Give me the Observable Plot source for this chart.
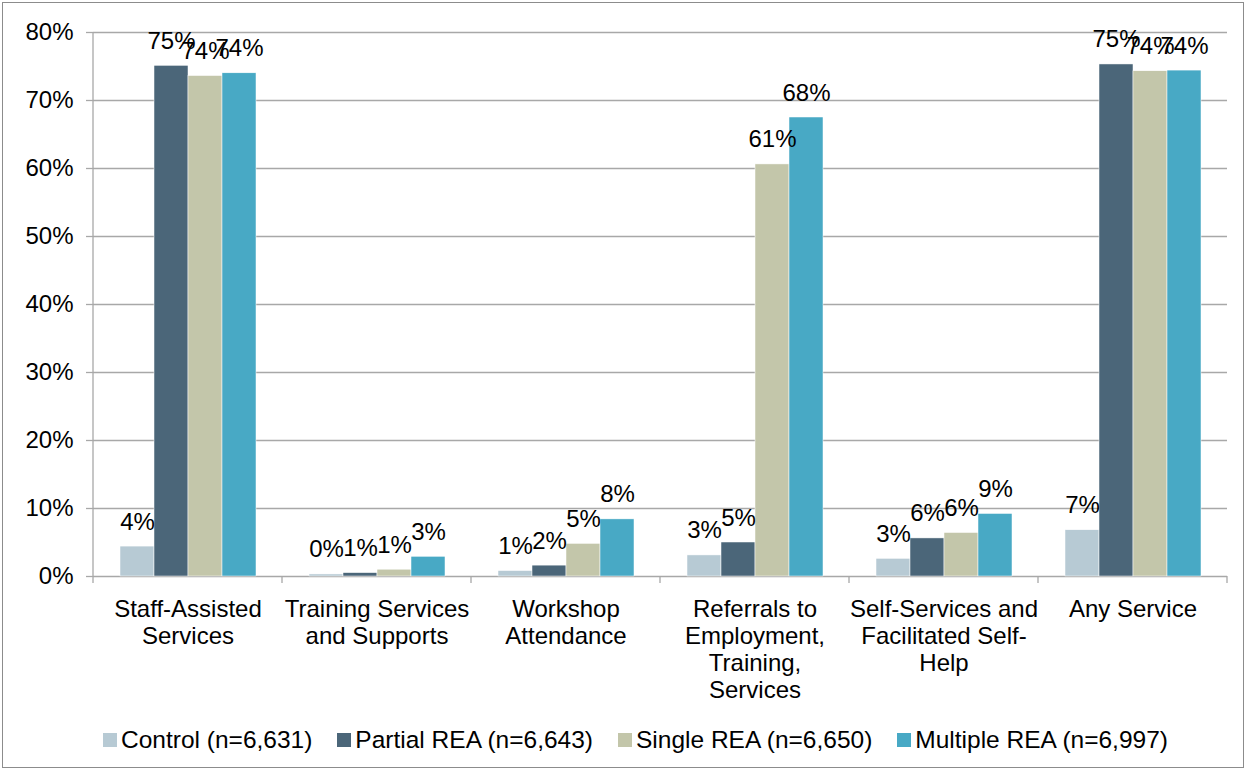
<!DOCTYPE html>
<html>
<head>
<meta charset="utf-8">
<script src="https://cdn.jsdelivr.net/npm/d3@7"></script>
<script src="https://cdn.jsdelivr.net/npm/@observablehq/plot@0.6"></script>
<style>
  html, body { margin: 0; padding: 0; background: #fff; }
  body { width: 1253px; height: 774px; position: relative; overflow: hidden; font-family: "Liberation Sans", Arial, sans-serif; }
  #frame { position: absolute; left: 2px; top: 2px; width: 1242px; height: 766px; border: 1px solid #8c8c8c; box-sizing: border-box; }
  #chart { position: absolute; left: 0; top: 0; }
  #legend { position: absolute; left: 103px; top: 726px; display: flex; align-items: center; font-size: 24.5px; color: #000; white-space: nowrap; }
  #legend .item { display: flex; align-items: center; margin-right: 25px; }
  #legend .sw { width: 14px; height: 14px; margin-right: 4px; }
</style>
</head>
<body>
<div id="frame"></div>
<div id="chart"></div>
<div id="legend"></div>
<script>
const categories = ["Staff-Assisted Services", "Training Services and Supports", "Workshop Attendance", "Referrals to Employment, Training, Services", "Self-Services and Facilitated Self-Help", "Any Service"];
const categoryLabels = ["Staff-Assisted\nServices", "Training Services\nand Supports", "Workshop\nAttendance", "Referrals to\nEmployment,\nTraining,\nServices", "Self-Services and\nFacilitated Self-\nHelp", "Any Service"];
const series = ["Control (n=6,631)", "Partial REA (n=6,643)", "Single REA (n=6,650)", "Multiple REA (n=6,997)"];
const seriesColors = ["#b7cad4", "#4b6679", "#c3c6aa", "#48a9c5"];
const control = [4.4, 0.3, 0.8, 3.1, 2.6, 6.8];
const partial = [75.1, 0.5, 1.6, 5.0, 5.6, 75.3];
const single = [73.6, 1.0, 4.8, 60.6, 6.4, 74.3];
const multiple = [74.0, 2.9, 8.4, 67.5, 9.2, 74.4];
const yTicks = [0, 10, 20, 30, 40, 50, 60, 70, 80];

const seriesValues = [control, partial, single, multiple];
const data = [];
categories.forEach((c, i) => {
  series.forEach((s, j) => data.push({cat: c, series: s, value: seriesValues[j][i]}));
});
const labelMap = new Map(categories.map((c, i) => [c, categoryLabels[i]]));

const W = 1253, H = 710;
const font = "'Liberation Sans', Arial, sans-serif";
const gridColor = "#a8a8a8";

const chart = Plot.plot({
  width: W,
  height: H,
  marginLeft: 93,
  marginRight: 26,
  marginTop: 32,
  marginBottom: 134,
  style: {fontFamily: font, fontSize: "24px", color: "#000", background: "transparent", overflow: "visible"},
  fx: {domain: categories, padding: 0, label: null},
  x: {domain: series, paddingInner: 0, paddingOuter: 0.74, axis: null},
  y: {domain: [0, 80], label: null},
  color: {domain: series, range: seriesColors},
  marks: [
    Plot.gridY(yTicks, {stroke: gridColor, strokeOpacity: 1, strokeWidth: 1.3}),
    Plot.axisY(yTicks, {tickFormat: d => d + "%", tickSize: 7, tickPadding: 13, fontSize: 24, stroke: gridColor, strokeWidth: 1.3, label: null}),
    Plot.barY(data, {fx: "cat", x: "series", y: "value", fill: "series", stroke: "#fff", strokeWidth: 0.5}),
    Plot.text(data, {fx: "cat", x: "series", y: "value", text: d => Math.round(d.value) + "%", dy: -17, lineAnchor: "bottom", fontSize: 24, fill: "#000"}),
    Plot.axisFx({anchor: "bottom", tickSize: 0, tickPadding: 21, lineHeight: 1.125, fontSize: 24, tickFormat: d => labelMap.get(d), label: null})
  ]
});
document.getElementById("chart").appendChild(chart);

// axis line and category boundary ticks, positioned with the chart's own scales
const fx = chart.scale("fx");
const y = chart.scale("y");
const svg = d3.select(chart);
const y0 = y.apply(0), yTop = y.apply(80);
const left = fx.apply(categories[0]);
const g = svg.append("g").attr("stroke", gridColor).attr("stroke-width", 1.3);
g.append("line").attr("x1", left).attr("x2", left).attr("y1", yTop).attr("y2", y0 + 7);
const bounds = categories.map(c => fx.apply(c));
bounds.push(fx.apply(categories[categories.length - 1]) + fx.bandwidth);
bounds.slice(1).forEach(b => {
  g.append("line").attr("x1", b).attr("x2", b).attr("y1", y0).attr("y2", y0 + 7);
});

// legend
const legend = document.getElementById("legend");
series.forEach((s, i) => {
  const item = document.createElement("div");
  item.className = "item";
  const sw = document.createElement("div");
  sw.className = "sw";
  sw.style.background = seriesColors[i];
  const t = document.createElement("span");
  t.textContent = s;
  item.appendChild(sw);
  item.appendChild(t);
  legend.appendChild(item);
});
</script>
</body>
</html>
